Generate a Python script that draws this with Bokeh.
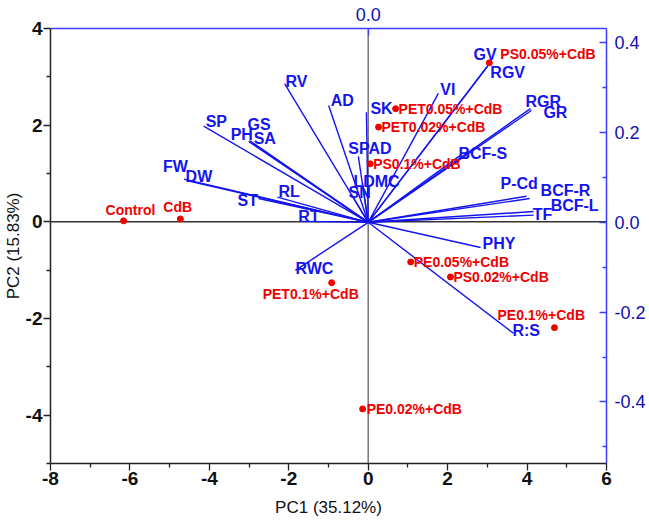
from bokeh.plotting import figure
from bokeh.models import (Range1d, LinearAxis, FixedTicker, ColumnDataSource,
                          Span, LabelSet, NumeralTickFormatter)
from bokeh.core.properties import value
from bokeh.embed import file_html
from bokeh.resources import INLINE

# ---- treatment scores (PC1 / PC2) ----
treatments = ["Control", "CdB", "PS0.05%+CdB", "PET0.05%+CdB", "PET0.02%+CdB",
              "PS0.1%+CdB", "PE0.05%+CdB", "PS0.02%+CdB", "PET0.1%+CdB",
              "PE0.1%+CdB", "PE0.02%+CdB"]
pc1_scores = [-6.16, -4.73, 3.05, 0.69, 0.26, 0.05, 1.07, 2.07, -0.92, 4.69, -0.14]
pc2_scores = [0.02, 0.06, 3.29, 2.34, 1.96, 1.20, -0.83, -1.14, -1.26, -2.19, -3.87]

# ---- variable loadings ----
variables = ["GV", "RGV", "VI", "RGR", "GR", "BCF-S", "P-Cd", "BCF-R", "BCF-L", "TF",
             "PHY", "R:S", "RWC", "RT", "RL", "ST", "FW", "DW", "SP", "GS", "PH", "SA",
             "RV", "AD", "SK", "SPAD", "LDMC", "SN"]
pc1_loadings = [0.270, 0.265, 0.156, 0.361, 0.363, 0.205, 0.352, 0.359, 0.368, 0.368,
                0.250, 0.323, -0.162, -0.151, -0.202, -0.244, -0.410, -0.404, -0.366,
                -0.264, -0.266, -0.257, -0.186, -0.088, -0.004, -0.022, -0.013, -0.035]
pc2_loadings = [0.354, 0.347, 0.287, 0.253, 0.249, 0.149, 0.058, 0.053, 0.024, 0.016,
                -0.056, -0.247, -0.107, 0.002, 0.056, 0.053, 0.096, 0.093, 0.214,
                0.182, 0.180, 0.176, 0.309, 0.260, 0.245, 0.147, 0.087, 0.058]

# axis ticks
pc1_ticks = [-8, -6, -4, -2, 0, 2, 4, 6]
pc2_ticks = [-4, -2, 0, 2, 4]
loading_ticks = [-0.4, -0.2, 0.0, 0.2, 0.4]

# label placement (screen pixels: right, up) relative to each mark
score_label_shift = {
    "Control": (-18, 11), "CdB": (-17, 12), "PS0.05%+CdB": (11, 9),
    "PET0.05%+CdB": (3, 0), "PET0.02%+CdB": (3, 0), "PS0.1%+CdB": (3, 0),
    "PE0.05%+CdB": (3, 0), "PS0.02%+CdB": (3, 0), "PET0.1%+CdB": (-69, -11),
    "PE0.1%+CdB": (-57, 13), "PE0.02%+CdB": (4, 0)}
var_label_shift = {
    "GV": (-16, 9), "RGV": (3, -6), "VI": (2, 4), "RGR": (-5, 7), "GR": (12, -2),
    "BCF-S": (-2, 2), "P-Cd": (-26, 13), "BCF-R": (11, 8), "BCF-L": (17, 6),
    "TF": (-1, 1), "PHY": (2, 4), "R:S": (-1, 3), "RWC": (0, 2), "RT": (-2, 5),
    "RL": (1, 6), "ST": (-21, -2), "FW": (-21, 13), "DW": (-1, 4), "SP": (2, 5),
    "GS": (-2, 16), "PH": (-18, 7), "SA": (1, 5), "RV": (1, 2), "AD": (2, 5),
    "SK": (4, 4), "SPAD": (-10, 8), "LDMC": (-9, 2), "SN": (-4, 4)}

FONT = "Liberation Sans"
BLUE = "#1414f0"
AXIS_BLUE = "#3c3cff"
RED = "#f00000"

p = figure(width=649, height=526, x_range=Range1d(-8, 6), y_range=Range1d(-5, 4),
           output_backend="svg", toolbar_location=None,
           min_border_left=50, min_border_right=43, min_border_top=28,
           min_border_bottom=63)
p.extra_x_ranges = {"lx": Range1d(-0.7067, 0.530)}
p.extra_y_ranges = {"ly": Range1d(-0.537, 0.4315)}
p.xgrid.visible = False
p.ygrid.visible = False
p.outline_line_color = None
p.background_fill_color = "white"
p.border_fill_color = "white"

# bottom / left score axes
xa = p.xaxis[0]
xa.ticker = FixedTicker(ticks=pc1_ticks, minor_ticks=[-7, -5, -3, -1, 1, 3, 5])
ya = p.yaxis[0]
ya.ticker = FixedTicker(ticks=pc2_ticks, minor_ticks=[-5, -3, -1, 1, 3])
xa.axis_label = "PC1 (35.12%)"
ya.axis_label = "PC2 (15.83%)"
for ax in (xa, ya):
    ax.formatter = NumeralTickFormatter(format="0")
    ax.axis_line_color = "#222222"
    ax.axis_line_width = 1.5
    ax.major_tick_line_color = "#222222"
    ax.minor_tick_line_color = "#222222"
    ax.major_tick_line_width = 1.3
    ax.minor_tick_line_width = 1.3
    ax.major_tick_in = 0
    ax.major_tick_out = 7
    ax.minor_tick_in = 0
    ax.minor_tick_out = 4
    ax.major_label_text_font = FONT
    ax.major_label_text_font_style = "bold"
    ax.major_label_text_font_size = "19px"
    ax.major_label_text_color = "#111111"
    ax.axis_label_text_font = FONT
    ax.axis_label_text_font_style = "normal"
    ax.axis_label_text_font_size = "17px"
    ax.axis_label_text_color = "#111111"
    ax.major_label_standoff = 1
xa.axis_label_standoff = 10
ya.axis_label_standoff = 0

# top / right loading axes
top = LinearAxis(x_range_name="lx",
                 ticker=FixedTicker(ticks=[0.0], minor_ticks=[]),
                 formatter=NumeralTickFormatter(format="0.0"))
right = LinearAxis(y_range_name="ly",
                   ticker=FixedTicker(ticks=loading_ticks,
                                      minor_ticks=[-0.5, -0.3, -0.1, 0.1, 0.3]),
                   formatter=NumeralTickFormatter(format="0.0"))
for ax in (top, right):
    ax.axis_line_color = AXIS_BLUE
    ax.axis_line_width = 1.5
    ax.major_tick_line_color = AXIS_BLUE
    ax.minor_tick_line_color = AXIS_BLUE
    ax.major_tick_line_width = 1.3
    ax.minor_tick_line_width = 1.3
    ax.major_tick_in = 7
    ax.major_tick_out = 0
    ax.minor_tick_in = 4
    ax.minor_tick_out = 0
    ax.major_label_text_font = FONT
    ax.major_label_text_font_size = "18px"
    ax.major_label_text_color = "#1010b0"
    ax.major_label_standoff = 8
p.add_layout(top, "above")
p.add_layout(right, "right")

# zero reference lines
p.add_layout(Span(location=0, dimension="width", line_color="#333333",
                  line_width=1.5, level="underlay"))
p.add_layout(Span(location=0, dimension="height", line_color="#777777",
                  line_width=1.5, level="underlay"))

# loading vectors
load_src = ColumnDataSource(dict(
    name=variables, lx=pc1_loadings, ly=pc2_loadings,
    dx=[var_label_shift[v][0] for v in variables],
    dy=[var_label_shift[v][1] for v in variables]))
p.segment(x0=0, y0=0, x1="lx", y1="ly", source=load_src,
          x_range_name="lx", y_range_name="ly", line_color=BLUE, line_width=1.4)
p.add_layout(LabelSet(x="lx", y="ly", text="name", source=load_src,
                      x_range_name="lx", y_range_name="ly",
                      x_offset="dx", y_offset="dy",
                      text_font=value(FONT), text_font_style="bold",
                      text_font_size="16px", text_color=BLUE,
                      text_align="left", text_baseline="middle"))

# treatment scores
score_src = ColumnDataSource(dict(
    name=treatments, x=pc1_scores, y=pc2_scores,
    dx=[score_label_shift[t][0] for t in treatments],
    dy=[score_label_shift[t][1] for t in treatments]))
p.scatter("x", "y", source=score_src, size=6, color=RED)
p.add_layout(LabelSet(x="x", y="y", text="name", source=score_src,
                      x_offset="dx", y_offset="dy",
                      text_font=value(FONT), text_font_style="bold",
                      text_font_size="14px", text_color=RED,
                      text_align="left", text_baseline="middle"))

open("out.html", "w").write(file_html(p, INLINE))
